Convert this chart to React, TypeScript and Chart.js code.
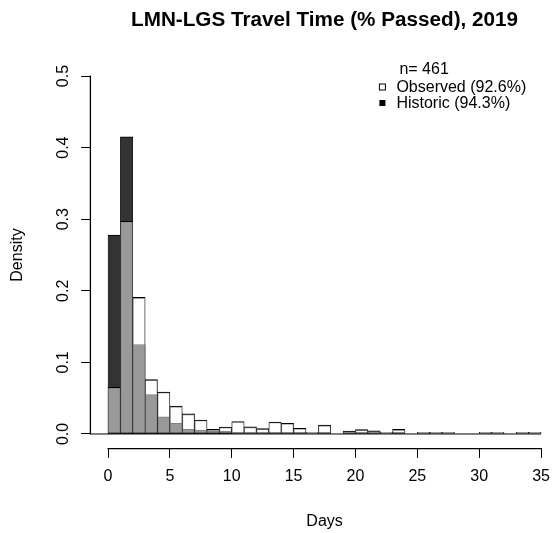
import React, { useEffect, useRef } from "react";
import { Chart, registerables } from "chart.js";

Chart.register(...registerables);

const TITLE = "LMN-LGS Travel Time (% Passed), 2019";
const X_LABEL = "Days";
const Y_LABEL = "Density";
const LEGEND_HEADER = "n= 461";
const OBSERVED_LABEL = "Observed (92.6%)";
const HISTORIC_LABEL = "Historic (94.3%)";

// histogram bins: [start, start+1) days
const BIN_STARTS = [
  0, 1, 2, 3, 4, 5, 6, 7, 8, 9, 10, 11, 12, 13, 14, 15, 16, 17, 18, 19, 20, 21,
  22, 23, 24, 25, 26, 27, 28, 29, 30, 31, 32, 33, 34,
];
const BIN_WIDTH = 1;

const OBSERVED = [
  0.0651, 0.2972, 0.1909, 0.0759, 0.0586, 0.039, 0.0282, 0.0195, 0.0065, 0.0098,
  0.0174, 0.01, 0.0075, 0.0168, 0.015, 0.008, 0.0022, 0.0124, 0, 0.004, 0.006,
  0.0045, 0.0022, 0.0065, 0, 0.0022, 0.0022, 0.0022, 0, 0, 0.0022, 0.0022, 0,
  0.0022, 0.0022,
];

const HISTORIC = [
  0.278, 0.415, 0.125, 0.055, 0.024, 0.015, 0.0065, 0.0056, 0.004, 0.004, 0, 0,
  0, 0, 0, 0, 0, 0, 0, 0, 0, 0, 0, 0, 0, 0, 0, 0, 0, 0, 0, 0, 0, 0, 0,
];

const X_TICKS = [0, 5, 10, 15, 20, 25, 30, 35];
const Y_TICKS = [0, 0.1, 0.2, 0.3, 0.4, 0.5];

const FONT = '"Liberation Sans", Arial, Helvetica, sans-serif';

const W = 553;
const H = 533;
const CANVAS_W = 559; // plot region extends slightly past the window edge (clipped)

const rAxesPlugin = {
  id: "rAxes",
  afterDraw(chart: any) {
    const { ctx, chartArea, scales } = chart;
    const xs = scales.x;
    const ys = scales.y;
    ctx.save();
    ctx.strokeStyle = "#000";
    ctx.lineWidth = 1;
    // baseline at density 0
    const y0 = ys.getPixelForValue(0);
    ctx.beginPath();
    ctx.moveTo(chartArea.left, y0);
    ctx.lineTo(xs.getPixelForValue(X_TICKS[X_TICKS.length - 1]), y0);
    ctx.stroke();
    // x axis line (from first to last tick), at bottom of plot region
    ctx.lineWidth = 1.3;
    const xa = xs.getPixelForValue(X_TICKS[0]);
    const xz = xs.getPixelForValue(X_TICKS[X_TICKS.length - 1]);
    const yb = ys.getPixelForValue(ys.min);
    ctx.beginPath();
    ctx.moveTo(xa - 0.5, yb + 0.4);
    ctx.lineTo(xz + 0.5, yb + 0.4);
    ctx.stroke();
    // y axis line (from first to last tick), at left of plot region
    const xl = xs.getPixelForValue(xs.min);
    ctx.beginPath();
    ctx.moveTo(xl - 0.3, ys.getPixelForValue(Y_TICKS[Y_TICKS.length - 1]) - 0.5);
    ctx.lineTo(xl - 0.3, ys.getPixelForValue(Y_TICKS[0]) + 0.5);
    ctx.stroke();
    ctx.restore();
  },
};

const rLegendPlugin = {
  id: "rLegend",
  afterDraw(chart: any) {
    const { ctx, chartArea } = chart;
    const textX = chartArea.right - 162;
    const symX = textX - 14;
    const rows = [70, 88, 104];
    ctx.save();
    ctx.font = `16px ${FONT}`;
    ctx.fillStyle = "#000";
    ctx.textBaseline = "middle";
    ctx.textAlign = "left";
    ctx.fillText(LEGEND_HEADER, textX + 3, rows[0]);
    ctx.fillText(OBSERVED_LABEL, textX, rows[1]);
    ctx.fillText(HISTORIC_LABEL, textX, rows[2]);
    // symbols
    const s = 6;
    ctx.lineWidth = 1;
    ctx.strokeStyle = "#000";
    ctx.fillStyle = "#fff";
    ctx.fillRect(symX - s / 2, rows[1] - 1 - s / 2, s, s);
    ctx.strokeRect(symX - s / 2, rows[1] - 1 - s / 2, s, s);
    ctx.fillStyle = "#000";
    ctx.fillRect(symX - s / 2, rows[2] - 1 - s / 2, s, s);
    ctx.restore();
  },
};

export default function App() {
  const ref = useRef<HTMLCanvasElement | null>(null);

  useEffect(() => {
    if (!ref.current) return;
    const barStyle = {
      borderColor: "#000",
      borderWidth: { top: 1, bottom: 1, left: 0.5, right: 0.5 },
      borderSkipped: false,
      grouped: false,
      barPercentage: 1,
      categoryPercentage: 1,
    };
    const chart = new Chart(ref.current, {
      type: "bar",
      data: {
        datasets: [
          {
            label: OBSERVED_LABEL,
            data: BIN_STARTS.map((s, i) => ({ x: s + BIN_WIDTH / 2, y: OBSERVED[i] })),
            backgroundColor: "rgba(255,255,255,0.5)",
            order: 0,
            ...barStyle,
          },
          {
            label: HISTORIC_LABEL,
            data: BIN_STARTS.map((s, i) => ({ x: s + BIN_WIDTH / 2, y: HISTORIC[i] })),
            backgroundColor: "#333333",
            order: 1,
            ...barStyle,
          },
        ],
      },
      options: {
        animation: false,
        responsive: false,
        events: [],
        layout: { padding: 0 },
        plugins: {
          legend: { display: false },
          tooltip: { enabled: false },
          title: {
            display: true,
            text: TITLE,
            fullSize: false,
            color: "#000",
            font: { family: FONT, size: 20.7, weight: "bold" },
            padding: { top: 7.6, bottom: 29.3 },
          },
        },
        scales: {
          x: {
            type: "linear",
            offset: false,
            min: -1.4,
            max: 36.4,
            afterBuildTicks: (s: any) => {
              s.ticks = X_TICKS.map((v) => ({ value: v }));
            },
            afterFit: (s: any) => {
              s.height = H - 448.3;
            },
            grid: {
              display: true,
              offset: false,
              drawOnChartArea: false,
              drawTicks: true,
              tickLength: 9.6,
              color: "#000",
              lineWidth: 1,
            },
            border: { display: false },
            ticks: {
              color: "#000",
              font: { family: FONT, size: 16 },
              padding: 9,
              maxRotation: 0,
              autoSkip: false,
              callback: (v: any) => String(v),
            },
            title: {
              display: true,
              text: X_LABEL,
              color: "#000",
              font: { family: FONT, size: 16 },
              padding: { top: 0, bottom: 1.4 },
            },
          },
          y: {
            type: "linear",
            min: -0.02,
            max: 0.52,
            afterBuildTicks: (s: any) => {
              s.ticks = Y_TICKS.map((v) => ({ value: v }));
            },
            afterFit: (s: any) => {
              s.width = 90.7;
            },
            grid: {
              display: true,
              offset: false,
              drawOnChartArea: false,
              drawTicks: true,
              tickLength: 9.6,
              color: "#000",
              lineWidth: 1,
            },
            border: { display: false },
            ticks: {
              color: "#000",
              font: { family: FONT, size: 16 },
              padding: 6,
              minRotation: 90,
              maxRotation: 90,
              crossAlign: "center",
              autoSkip: false,
              callback: (v: any) => Number(v).toFixed(1),
            },
            title: {
              display: true,
              text: Y_LABEL,
              color: "#000",
              font: { family: FONT, size: 16 },
              padding: { top: 8.4, bottom: 0 },
            },
          },
        },
      } as any,
      plugins: [rAxesPlugin, rLegendPlugin],
    });
    return () => chart.destroy();
  }, []);

  return (
    <div
      style={{
        position: "absolute",
        left: 0,
        top: 0,
        width: W,
        height: H,
        overflow: "hidden",
        background: "#fff",
      }}
    >
      <canvas
        ref={ref}
        width={CANVAS_W}
        height={H}
        style={{ display: "block", width: CANVAS_W, height: H }}
      />
    </div>
  );
}
